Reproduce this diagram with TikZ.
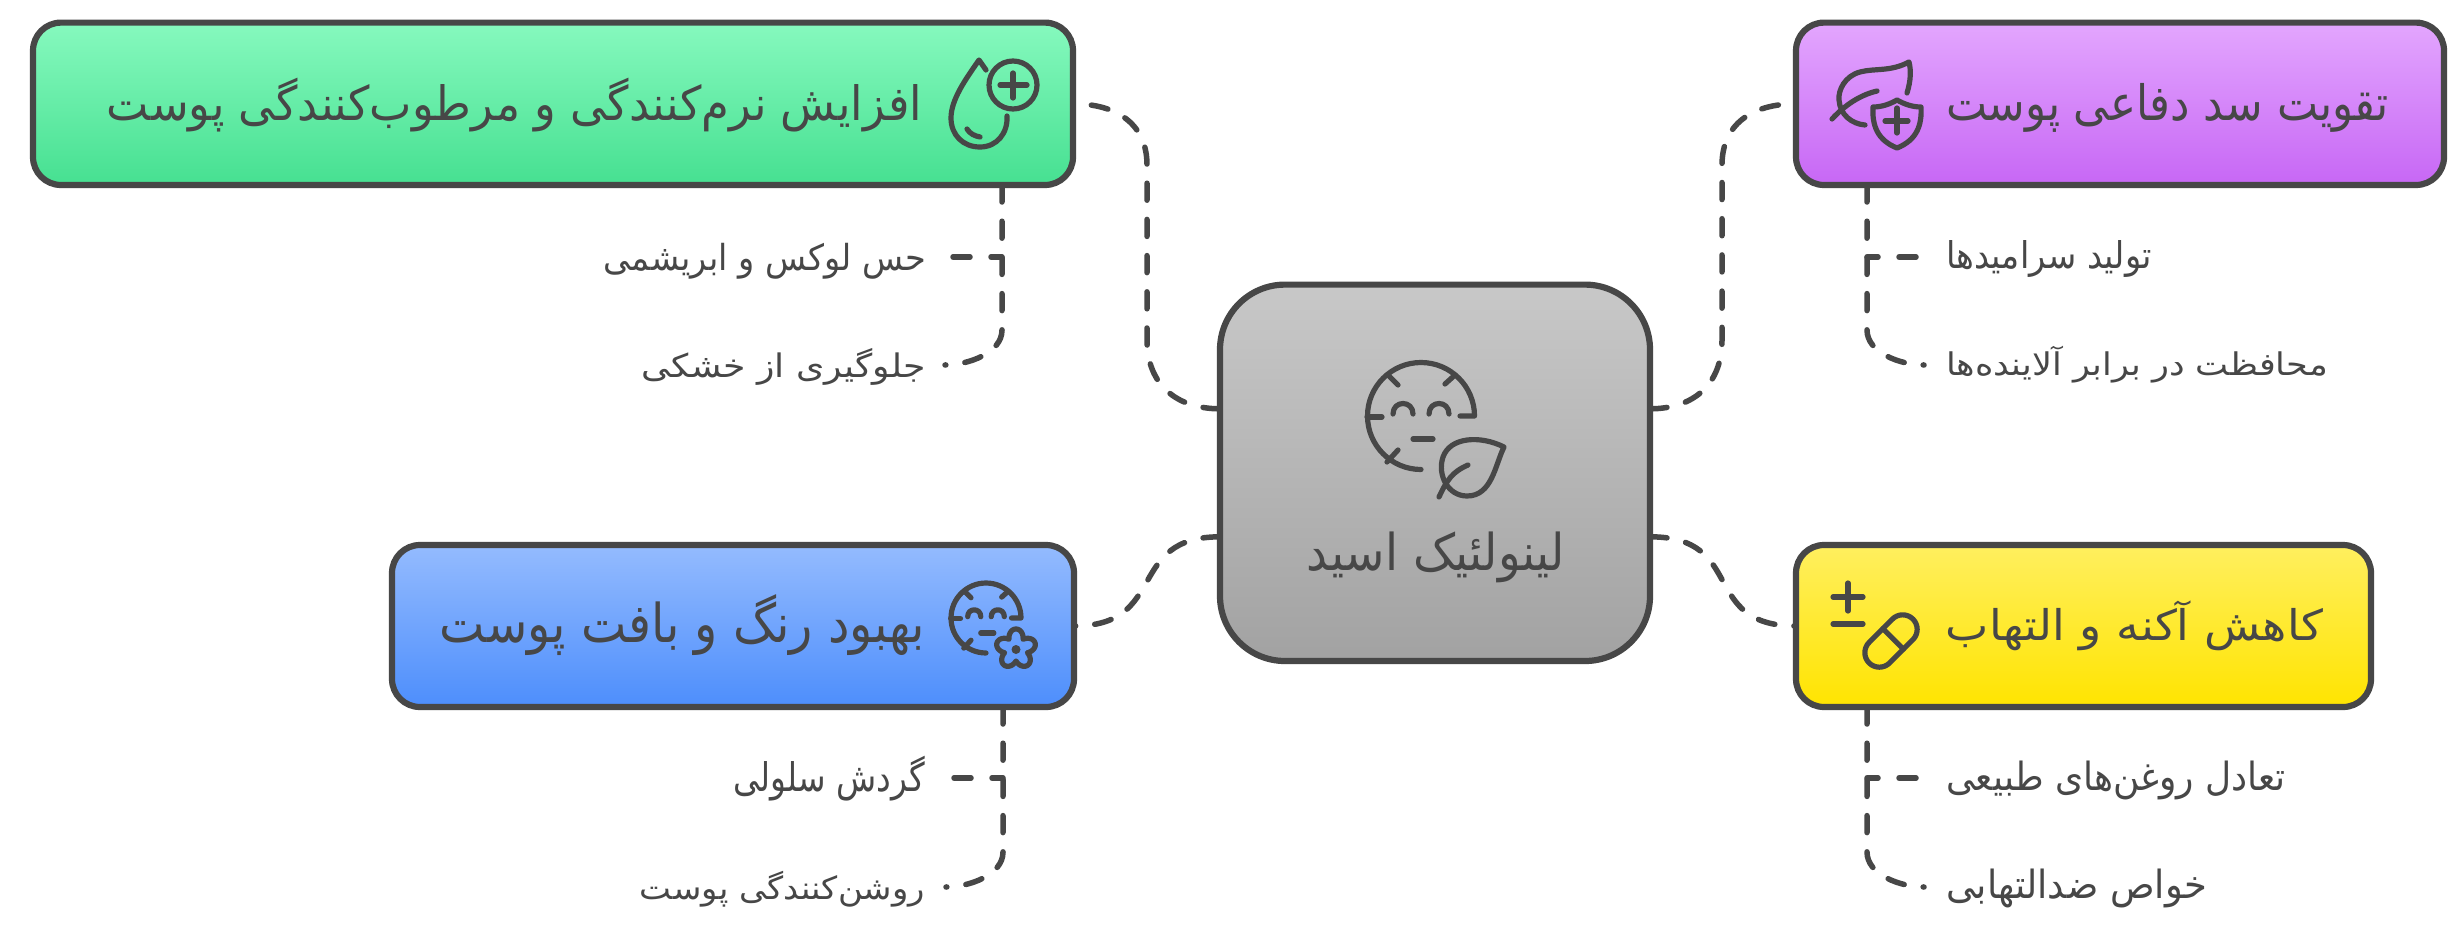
\documentclass[tikz,border=0pt]{standalone}
\usepackage{fontspec}
\usepackage{graphicx}
\newfontfamily\fa[Script=Arabic]{DejaVu Sans}
\TeXXeTstate=1
\newcommand{\fatxt}[3]{\resizebox*{#1}{#2}{#3}}
\definecolor{ink}{HTML}{474747}
\tikzset{
  card/.style={draw=ink,line width=3.1pt,rounded corners=14pt,inner sep=0pt,outer sep=0pt,minimum width=#1},
  link/.style={draw=ink,line width=2.75pt,line cap=round,dash pattern=on 8.5pt off 9.6pt},
  twig/.style={draw=ink,line width=2.75pt,line cap=round,dash pattern=on 8.5pt off 10.5pt,dash phase=3pt},
  glyph/.style={draw=ink,line width=2.6pt,line cap=round,line join=round},
  lbl/.style={text=ink,inner sep=0pt,outer sep=0pt}
}
\newcommand{\faceicon}{%
  \draw[glyph] (0,53.5) arc[start angle=90,end angle=360,radius=53.5] -- (39,0);
  \draw[glyph] (-54,1) -- (-39,1);
  \draw[glyph] (-33,-41) -- (-23,-31);
  \draw[glyph] (34,-41) -- (24,-32);
  \draw[glyph] (-34,46) -- (-23,34);
  \draw[glyph] (-28,-2) .. controls (-28,-16) and (-8,-16) .. (-8,-2);
  \draw[glyph] (8,-2) .. controls (8,-16) and (28,-16) .. (28,-2);
  \draw[glyph] (-8,23) -- (12,23);
}
\begin{document}
\begin{tikzpicture}[x=0.5pt,y=-0.5pt]
\path[use as bounding box,fill=white] (0,0) rectangle (2457,937);

% cards
\node[card=520pt,minimum height=81.2pt,top color={rgb,255:red,134;green,249;blue,190},bottom color={rgb,255:red,70;green,224;blue,145}] (b1) at (553,103.8) {};
\node[card=324pt,minimum height=81.2pt,top color={rgb,255:red,227;green,166;blue,254},bottom color={rgb,255:red,199;green,103;blue,245}] (b2) at (2120,103.8) {};
\node[card=341pt,minimum height=81pt,top color={rgb,255:red,148;green,187;blue,254},bottom color={rgb,255:red,77;green,142;blue,252}] (b3) at (733,626) {};
\node[card=287.5pt,minimum height=81pt,top color={rgb,255:red,255;green,239;blue,95},bottom color={rgb,255:red,255;green,228;blue,0}] (b4) at (2083.5,626) {};
\node[card=215pt,rounded corners=32.5pt,minimum height=188.2pt,top color={rgb,255:red,200;green,200;blue,200},bottom color={rgb,255:red,162;green,162;blue,162}] (c) at (1435,472.8) {};

% labels
\node[lbl] (t1) at (514.5,105) {\fatxt{407.5pt}{27pt}{\fa\beginR افزایش نرم‌کنندگی و مرطوب‌کنندگی پوست\endR}};
\node[lbl] (t2) at (2167.5,108) {\fatxt{221.5pt}{24.5pt}{\fa\beginR تقویت سد دفاعی پوست\endR}};
\node[lbl] (t3) at (682.5,625) {\fatxt{242.5pt}{30.5pt}{\fa\beginR بهبود رنگ و بافت پوست\endR}};
\node[lbl] (t4) at (2134.5,626) {\fatxt{188.5pt}{25pt}{\fa\beginR کاهش آکنه و التهاب\endR}};
\node[lbl] (tc) at (1436,557) {\fatxt{129pt}{25.5pt}{\fa\beginR لینولئیک اسید\endR}};

\node[lbl] (l1a) at (765,261) {\fatxt{161pt}{18pt}{\fa\beginR حس لوکس و ابریشمی\endR}};
\node[lbl] (l1b) at (783.5,367) {\fatxt{142.5pt}{18.5pt}{\fa\beginR جلوگیری از خشکی\endR}};
\node[lbl] (l2a) at (2049,259) {\fatxt{103pt}{18.5pt}{\fa\beginR تولید سرامیدها\endR}};
\node[lbl] (l2b) at (2137,365) {\fatxt{191pt}{18.5pt}{\fa\beginR محافظت در برابر آلاینده‌ها\endR}};
\node[lbl] (l3a) at (829,779) {\fatxt{96pt}{22.5pt}{\fa\beginR گردش سلولی\endR}};
\node[lbl] (l3b) at (782.5,889) {\fatxt{142.5pt}{18pt}{\fa\beginR روشن‌کنندگی پوست\endR}};
\node[lbl] (l4a) at (2116,780) {\fatxt{170pt}{19.5pt}{\fa\beginR تعادل روغن‌های طبیعی\endR}};
\node[lbl] (l4b) at (2076.5,888) {\fatxt{130.5pt}{19.5pt}{\fa\beginR خواص ضدالتهابی\endR}};

% junctions and free ends
\coordinate (j1) at (1002,257); \coordinate (e1a) at (948,257); \coordinate (e1b) at (945,365);
\coordinate (j2) at (1867,257); \coordinate (e2a) at (1921,257); \coordinate (e2b) at (1924,365);
\coordinate (j3) at (1003,778); \coordinate (e3a) at (949,778); \coordinate (e3b) at (946,887);
\coordinate (j4) at (1867,778); \coordinate (e4a) at (1921,778); \coordinate (e4b) at (1924,887);

% centre links
\draw[link] ([yshift=32pt]c.west) .. controls +(-43,0) and +(0,45) .. (1147,340) -- (1147,165) .. controls +(0,-40) and +(45,0) .. (b1.east);
\draw[link] ([yshift=32pt]c.east) .. controls +(43,0) and +(0,45) .. (1722,340) -- (1722,165) .. controls +(0,-40) and +(-45,0) .. (b2.west);
\draw[link] ([yshift=-32pt]c.west) .. controls +(-95,0) and +(95,0) .. (b3.east);
\draw[link] ([yshift=-32pt]c.east) .. controls +(97,0) and +(-97,0) .. (b4.west);

% twigs
\draw[twig] (j1) -- (e1a);
\draw[link] (b1.south -| j1) -- ++(0,145) .. controls +(0,23) and +(23,0) .. (e1b);
\draw[twig] (j2) -- (e2a);
\draw[link] (b2.south -| j2) -- ++(0,145) .. controls +(0,23) and +(-23,0) .. (e2b);
\draw[twig] (j3) -- (e3a);
\draw[link] (b3.south -| j3) -- ++(0,145) .. controls +(0,23) and +(23,0) .. (e3b);
\draw[twig] (j4) -- (e4a);
\draw[link] (b4.south -| j4) -- ++(0,145) .. controls +(0,23) and +(-23,0) .. (e4b);

% icon: drop with plus
\draw[glyph] (1013,85) circle[radius=24];
\draw[glyph] (1000,85) -- (1027,85) (1013,73) -- (1013,98);
\draw[glyph] (986,70) -- (979,60) .. controls (965,80) and (951,100) .. (951,118) .. controls (951,135) and (963,147) .. (980,147) .. controls (997,147) and (1008,133) .. (1007,116);
\draw[glyph] (967,129) .. controls (970,134) and (975,136) .. (980,137);

% icon: leaf with shield
\draw[glyph] (1907,93) .. controls (1911,80) and (1911,70) .. (1909,62) .. controls (1890,72) and (1875,68) .. (1860,72) .. controls (1845,76) and (1838,90) .. (1839,100) .. controls (1840,115) and (1852,124) .. (1865,125);
\draw[glyph] (1832,119) .. controls (1845,105) and (1860,95) .. (1877,91);
\draw[glyph] (1897,100) .. controls (1890,104) and (1882,107) .. (1873,107) .. controls (1872,125) and (1877,140) .. (1897,148) .. controls (1917,140) and (1922,125) .. (1921,107) .. controls (1912,107) and (1904,104) .. (1897,100) -- cycle;
\draw[glyph] (1885,121) -- (1908,121) (1897,108) -- (1897,133);

% icon: face with leaf
\begin{scope}[shift={(1421,416)}]\faceicon\end{scope}
\draw[glyph] (1504,447) .. controls (1480,435) and (1450,437) .. (1443,457) .. controls (1437,475) and (1448,496) .. (1467,496) .. controls (1492,496) and (1495,465) .. (1504,447) -- cycle;
\draw[glyph] (1439,497) .. controls (1447,480) and (1452,472) .. (1468,465);

% icon: face with flower
\begin{scope}[shift={(986,618)},scale=0.654]\faceicon\end{scope}
\draw[glyph] plot[domain=0:360,samples=181] ({1016+(12+8*abs(cos(2.5*(\x+90))))*cos(\x)},{649+(12+8*abs(cos(2.5*(\x+90))))*sin(\x)}) -- cycle;
\fill[ink] (1016,649.5) circle[radius=4.5];

% icon: plus-minus and pill
\draw[glyph] (1833,597) -- (1863,597) (1848,583) -- (1848,611) (1833,624) -- (1863,624);
\begin{scope}[shift={(1891,641)},rotate=45]
\draw[glyph,rounded corners=7.25pt] (-31,-14.5) rectangle (31,14.5);
\draw[glyph] (3,-14.5) -- (3,14.5);
\end{scope}
\end{tikzpicture}
\end{document}
